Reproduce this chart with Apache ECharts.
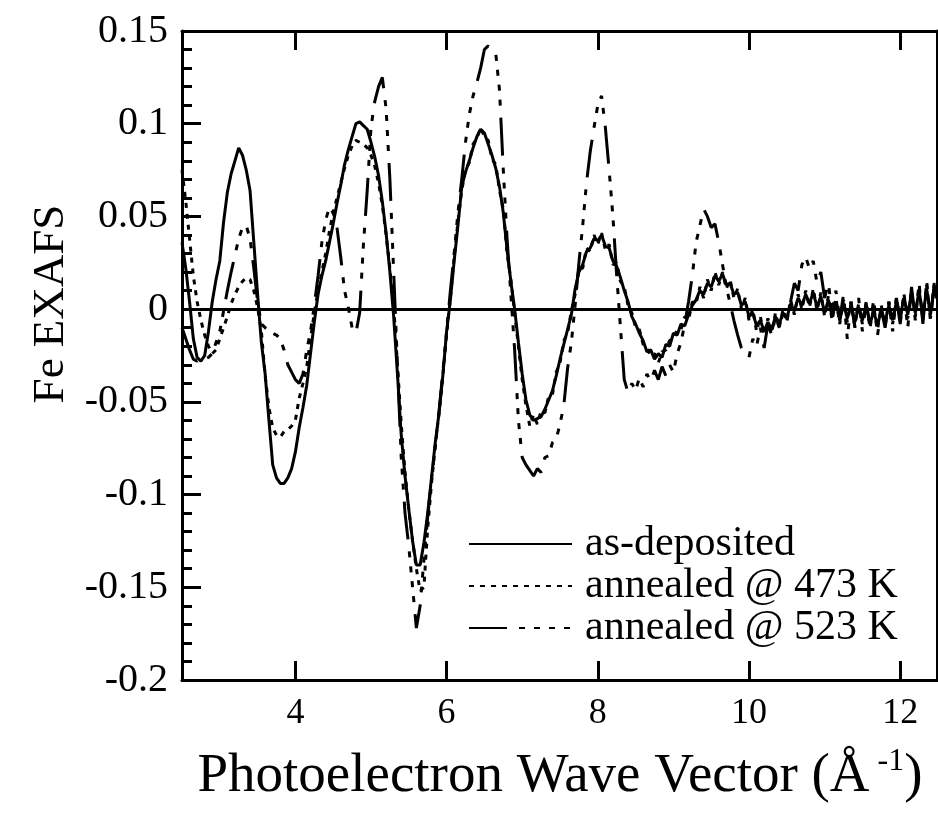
<!DOCTYPE html>
<html><head><meta charset="utf-8">
<script src="https://cdn.jsdelivr.net/npm/echarts@6/dist/echarts.min.js"></script>
<style>html,body{margin:0;padding:0;background:#fff;overflow:hidden}
.layer{position:absolute;left:0;top:0;width:938px;height:817px}</style>
</head><body>
<div id="main" class="layer"></div><div id="minor" class="layer"></div>
<div id="right" class="layer"></div><div id="names" class="layer"></div>
<script>
// sampling grid of the photoelectron wave vector (Å^-1)
const kStart = 2.5;
const kStep = 0.05;

const seriesNames = ['as-deposited', 'annealed @ 473 K', 'annealed @ 523 K'];

// values, k = 2.50, 2.55, ... 12.50
const asDeposited = [
  0.036, 0.022, 0.004, -0.016, -0.026, -0.028, -0.025, -0.012, 0.004, 0.016,
  0.026, 0.047, 0.063, 0.073, 0.080, 0.087, 0.083, 0.075, 0.064, 0.036,
  0.008, -0.018, -0.035, -0.060, -0.084, -0.091, -0.094, -0.094, -0.091, -0.086,
  -0.077, -0.064, -0.053, -0.041, -0.024, -0.007, 0.008, 0.018, 0.026, 0.036,
  0.046, 0.057, 0.067, 0.078, 0.086, 0.093, 0.100, 0.101, 0.099, 0.097,
  0.090, 0.082, 0.072, 0.058, 0.041, 0.020, -0.004, -0.035, -0.068, -0.090,
  -0.108, -0.125, -0.138, -0.138, -0.126, -0.110, -0.091, -0.072, -0.056, -0.036,
  -0.012, 0.005, 0.026, 0.045, 0.066, 0.074, 0.080, 0.087, 0.093, 0.097,
  0.095, 0.089, 0.083, 0.076, 0.066, 0.052, 0.032, 0.015, 0.000, -0.018,
  -0.035, -0.049, -0.057, -0.060, -0.059, -0.058, -0.054, -0.049, -0.044, -0.036,
  -0.027, -0.019, -0.011, -0.003, 0.011, 0.020, 0.024, 0.031, 0.033, 0.038,
  0.037, 0.040, 0.034, 0.033, 0.026, 0.023, 0.017, 0.010, 0.004, -0.004,
  -0.008, -0.013, -0.017, -0.023, -0.022, -0.027, -0.024, -0.026, -0.019, -0.020,
  -0.013, -0.014, -0.008, -0.009, -0.003, 0.002, 0.005, 0.010, 0.008, 0.014,
  0.012, 0.018, 0.015, 0.019, 0.013, 0.014, 0.008, 0.009, 0.002, 0.004,
  -0.004, -0.002, -0.009, -0.006, -0.012, -0.007, -0.011, -0.004, -0.008, -0.002,
  -0.005, 0.003, -0.001, 0.006, 0.002, 0.008, 0.003, 0.009, 0.001, 0.007,
  -0.002, 0.005, -0.004, 0.004, -0.006, 0.003, -0.005, 0.002, -0.007, 0.001,
  -0.006, 0.002, -0.008, -0.001, -0.009, 0.000, -0.007, 0.002, -0.006, 0.004,
  -0.004, 0.006, -0.003, 0.008, -0.002, 0.010, -0.004, 0.011, -0.003, 0.012,
  0.004
];

const annealed473 = [
  0.075, 0.058, 0.038, 0.018, 0.004, -0.006, -0.014, -0.020, -0.024, -0.022,
  -0.016, -0.010, -0.004, 0.003, 0.008, 0.012, 0.015, 0.017, 0.016, 0.010,
  0.001, -0.012, -0.036, -0.053, -0.064, -0.068, -0.069, -0.066, -0.065, -0.063,
  -0.060, -0.048, -0.040, -0.031, -0.016, -0.002, 0.010, 0.020, 0.030, 0.042,
  0.052, 0.060, 0.068, 0.076, 0.083, 0.088, 0.091, 0.090, 0.089, 0.087,
  0.083, 0.077, 0.068, 0.056, 0.040, 0.022, 0.002, -0.030, -0.062, -0.088,
  -0.108, -0.125, -0.140, -0.152, -0.150, -0.118, -0.094, -0.074, -0.056, -0.036,
  -0.014, 0.006, 0.028, 0.047, 0.064, 0.075, 0.079, 0.089, 0.092, 0.098,
  0.093, 0.091, 0.081, 0.078, 0.064, 0.054, 0.030, 0.016, -0.002, -0.020,
  -0.038, -0.052, -0.063, -0.057, -0.062, -0.055, -0.056, -0.047, -0.046, -0.034,
  -0.029, -0.017, -0.013, -0.001, 0.008, 0.022, 0.022, 0.033, 0.031, 0.040,
  0.035, 0.041, 0.032, 0.035, 0.024, 0.025, 0.015, 0.012, 0.002, -0.002,
  -0.010, -0.011, -0.019, -0.021, -0.025, -0.024, -0.029, -0.023, -0.022, -0.017,
  -0.016, -0.011, -0.011, -0.004, -0.006, 0.004, 0.003, 0.012, 0.006, 0.016,
  0.010, 0.020, 0.013, 0.020, 0.011, 0.016, 0.006, 0.011, 0.000, 0.006,
  -0.006, 0.000, -0.012, -0.004, -0.014, -0.005, -0.013, -0.002, -0.010, 0.000,
  -0.007, 0.005, -0.003, 0.008, 0.000, 0.010, 0.001, 0.011, -0.001, 0.009,
  -0.004, 0.007, -0.006, 0.006, -0.008, 0.005, -0.007, 0.004, -0.009, 0.003,
  -0.008, 0.004, -0.010, 0.001, -0.011, 0.002, -0.009, 0.004, -0.008, 0.006,
  -0.006, 0.008, -0.005, 0.010, -0.004, 0.012, -0.006, 0.013, -0.005, 0.014,
  0.005
];

const annealed523 = [
  -0.010, -0.016, -0.022, -0.027, -0.028, -0.026, -0.027, -0.026, -0.024, -0.018,
  -0.012, -0.001, 0.010, 0.020, 0.029, 0.038, 0.044, 0.045, 0.038, 0.022,
  0.004, -0.008, -0.010, -0.012, -0.013, -0.014, -0.016, -0.022, -0.030, -0.034,
  -0.038, -0.040, -0.035, -0.022, -0.012, 0.002, 0.018, 0.036, 0.048, 0.055,
  0.052, 0.044, 0.028, 0.010, 0.001, -0.010, -0.013, -0.002, 0.035, 0.064,
  0.098, 0.112, 0.120, 0.125, 0.108, 0.070, 0.020, -0.030, -0.080, -0.110,
  -0.128, -0.150, -0.172, -0.160, -0.135, -0.112, -0.092, -0.074, -0.055, -0.034,
  -0.012, 0.010, 0.030, 0.052, 0.070, 0.090, 0.105, 0.115, 0.122, 0.130,
  0.140, 0.142, 0.139, 0.138, 0.118, 0.075, 0.038, 0.008, -0.022, -0.060,
  -0.080, -0.084, -0.087, -0.090, -0.086, -0.088, -0.080, -0.079, -0.072, -0.070,
  -0.062, -0.052, -0.032, -0.018, 0.002, 0.025, 0.045, 0.068, 0.085, 0.098,
  0.110, 0.115, 0.098, 0.075, 0.050, 0.018, -0.010, -0.038, -0.045, -0.040,
  -0.044, -0.037, -0.042, -0.035, -0.039, -0.033, -0.038, -0.031, -0.036, -0.030,
  -0.034, -0.024, -0.018, -0.008, 0.004, 0.018, 0.036, 0.045, 0.054, 0.050,
  0.044, 0.046, 0.036, 0.024, 0.012, 0.003, -0.006, -0.014, -0.021, -0.024,
  -0.026, -0.016, -0.020, -0.010, -0.021, -0.008, -0.014, -0.004, -0.010, -0.002,
  -0.006, 0.004, 0.014, 0.010, 0.024, 0.028, 0.022, 0.026, 0.014, 0.020,
  0.006, 0.014, -0.002, 0.010, -0.006, 0.008, -0.016, 0.004, -0.010, 0.006,
  -0.012, 0.003, -0.008, 0.005, -0.014, 0.000, -0.010, 0.004, -0.012, 0.006,
  -0.008, 0.008, -0.010, 0.012, -0.006, 0.014, -0.008, 0.015, -0.006, 0.013,
  0.002
];

const xMajorTicks = [4, 6, 8, 10, 12];

const kValues = asDeposited.map((_, i) => +(kStart + i * kStep).toFixed(2));
const pair = arr => arr.map((v, i) => [kValues[i], v]);

const FONT = "'Liberation Serif', 'Times New Roman', serif";
const BLACK = '#000';
const GRID = {left: 182, top: 31, width: 756, height: 649, containLabel: false};
const X_RANGE = {type: 'value', min: 2.5, max: 12.5};
const Y_RANGE = {type: 'value', min: -0.2, max: 0.15, interval: 0.05};
const axisLineOn = () => ({show: true, onZero: false, lineStyle: {color: BLACK, width: 3}});
const hiddenSeries = () => ({type: 'line', data: pair(asDeposited), showSymbol: false, silent: true,
  lineStyle: {opacity: 0}, itemStyle: {opacity: 0}});

// ---- layer 1: data, frame (bottom/top/left), tick labels, legend ----
const main = echarts.init(document.getElementById('main'));
main.setOption({
  animation: false,
  backgroundColor: '#fff',
  grid: GRID,
  legend: {
    orient: 'vertical', left: 463, top: 518,
    itemWidth: 103, itemHeight: 14, itemGap: 0,
    data: seriesNames,
    itemStyle: {opacity: 0},
    textStyle: {fontFamily: FONT, fontSize: 42, color: BLACK, lineHeight: 42, padding: [0, 0, 0, 8]}
  },
  xAxis: [
    Object.assign({}, X_RANGE, {
      gridIndex: 0, position: 'bottom', splitLine: {show: false},
      axisLine: axisLineOn(),
      axisTick: {show: true, inside: true, length: 19, lineStyle: {color: BLACK, width: 3}, customValues: xMajorTicks},
      axisLabel: {customValues: xMajorTicks, margin: 16, fontSize: 36, fontFamily: FONT, color: BLACK}
    }),
    Object.assign({}, X_RANGE, {
      gridIndex: 0, position: 'top', splitLine: {show: false},
      axisLine: axisLineOn(),
      axisTick: {show: true, inside: true, length: 19, lineStyle: {color: BLACK, width: 3}, customValues: xMajorTicks},
      axisLabel: {show: false}
    })
  ],
  yAxis: [
    Object.assign({}, Y_RANGE, {
      position: 'left', splitLine: {show: false},
      axisLine: axisLineOn(),
      axisTick: {show: true, inside: true, length: 19, lineStyle: {color: BLACK, width: 3}},
      minorTick: {show: true, splitNumber: 5, length: 10, lineStyle: {color: BLACK, width: 3}},
      axisLabel: {margin: 14, fontSize: 40, fontFamily: FONT, color: BLACK}
    })
  ],
  series: [
    {name: seriesNames[0], type: 'line', data: pair(asDeposited), showSymbol: false,
     lineStyle: {color: BLACK, width: 3, type: 'solid'}, itemStyle: {color: BLACK}},
    {name: seriesNames[1], type: 'line', data: pair(annealed473), showSymbol: false,
     lineStyle: {color: BLACK, width: 3, type: [5, 6], cap: 'butt'}, itemStyle: {color: BLACK}},
    {name: seriesNames[2], type: 'line', data: pair(annealed523), showSymbol: false,
     lineStyle: {color: BLACK, width: 3, type: [38, 12, 6, 9, 6, 9, 6, 9, 6, 12], cap: 'butt'}, itemStyle: {color: BLACK}}
  ]
});

// ---- layer 2: minor ticks of the x axes (bottom and top) ----
const minor = echarts.init(document.getElementById('minor'));
minor.setOption({
  animation: false,
  grid: GRID,
  xAxis: [
    Object.assign({}, X_RANGE, {gridIndex: 0, position: 'bottom', interval: 0.5, splitLine: {show: false},
      axisLine: {show: false, onZero: false},
      axisTick: {show: true, inside: true, length: 10, lineStyle: {color: BLACK, width: 3}},
      axisLabel: {show: false}}),
    Object.assign({}, X_RANGE, {gridIndex: 0, position: 'top', interval: 0.5, splitLine: {show: false},
      axisLine: {show: false, onZero: false},
      axisTick: {show: true, inside: true, length: 10, lineStyle: {color: BLACK, width: 3}},
      axisLabel: {show: false}})
  ],
  yAxis: Object.assign({}, Y_RANGE, {show: false}),
  series: [hiddenSeries()]
});

// ---- layer 3: right-hand frame with ticks pointing into the plot ----
const right = echarts.init(document.getElementById('right'));
right.setOption({
  animation: false,
  grid: {left: 937, top: 31, width: 1, height: 649, containLabel: false},
  xAxis: Object.assign({}, X_RANGE, {show: false}),
  yAxis: Object.assign({}, Y_RANGE, {
    position: 'left', splitLine: {show: false},
    axisLine: axisLineOn(),
    axisTick: {show: true, inside: false, length: 17, lineStyle: {color: BLACK, width: 3}},
    minorTick: {show: true, splitNumber: 5, length: 9, lineStyle: {color: BLACK, width: 3}},
    axisLabel: {show: false}
  }),
  series: [hiddenSeries()]
});

// ---- layer 4: axis titles and the zero line ----
const names = echarts.init(document.getElementById('names'));
names.setOption({
  animation: false,
  grid: GRID,
  xAxis: Object.assign({}, X_RANGE, {
    position: 'bottom', splitLine: {show: false},
    axisLine: {show: false, onZero: false}, axisTick: {show: false}, axisLabel: {show: false},
    name: '{a|Photoelectron Wave Vector (Å}{s| -1}{a|)}',
    nameLocation: 'middle', nameGap: 66,
    nameTextStyle: {
      color: BLACK,
      rich: {
        a: {fontFamily: FONT, fontSize: 55, color: BLACK, lineHeight: 62},
        s: {fontFamily: FONT, fontSize: 32, color: BLACK, lineHeight: 62, verticalAlign: 'top', padding: [0, 0, 24, 0]}
      }
    }
  }),
  yAxis: Object.assign({}, Y_RANGE, {
    position: 'left', splitLine: {show: false},
    axisLine: {show: false, onZero: false}, axisTick: {show: false}, axisLabel: {show: false},
    name: 'Fe EXAFS', nameLocation: 'middle', nameGap: 108, nameRotate: 90,
    nameTextStyle: {fontFamily: FONT, fontSize: 45, color: BLACK, padding: [0, 0, 0, 103]}
  }),
  series: [Object.assign(hiddenSeries(), {
    markLine: {
      silent: true, symbol: ['none', 'none'], label: {show: false},
      lineStyle: {color: BLACK, width: 3, type: 'solid', opacity: 1},
      data: [{yAxis: 0}]
    }
  })]
});
</script>
</body></html>
